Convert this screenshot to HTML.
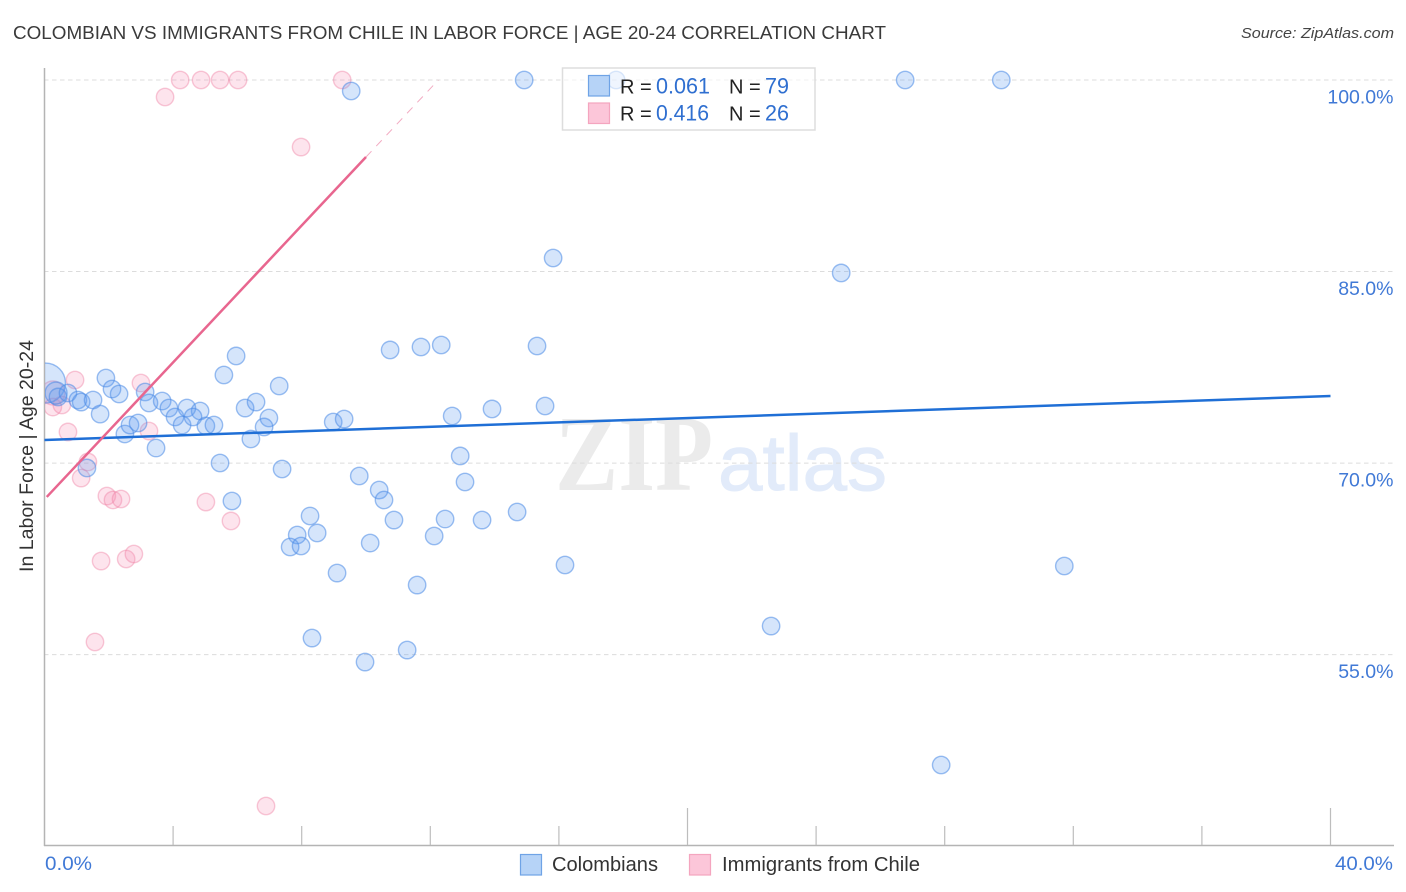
<!DOCTYPE html>
<html lang="en">
<head>
<meta charset="utf-8">
<title>Colombian vs Immigrants from Chile in Labor Force | Age 20-24 Correlation Chart</title>
<style>
html,body{margin:0;padding:0;background:#fff;width:1406px;height:892px;overflow:hidden}
svg{display:block}
text{font-family:"Liberation Sans",sans-serif}
</style>
</head>
<body>
<svg id="chart" width="1406" height="892" viewBox="0 0 1406 892" xmlns="http://www.w3.org/2000/svg">
  <defs>
    <clipPath id="plot-clip"><rect x="45" y="60" width="1349" height="785"/></clipPath>
  </defs>
  <text x="13" y="39" font-size="18.5" fill="#3a3a3a" textLength="873" lengthAdjust="spacingAndGlyphs">COLOMBIAN VS IMMIGRANTS FROM CHILE IN LABOR FORCE | AGE 20-24 CORRELATION CHART</text>
  <text x="1241" y="38" font-size="15" font-style="italic" fill="#444" textLength="153" lengthAdjust="spacingAndGlyphs">Source: ZipAtlas.com</text>

  <g id="watermark">
    <text x="555" y="490" style="font-family:'Liberation Serif',serif" font-weight="bold" font-size="108" fill="#ebebeb" textLength="158" lengthAdjust="spacingAndGlyphs">ZIP</text>
    <text x="718" y="490" font-size="79" fill="#e2ebfa" stroke="#e2ebfa" stroke-width="1" textLength="169" lengthAdjust="spacingAndGlyphs">atlas</text>
  </g>

  <g id="grid"></g>
  <g id="axes"></g>
  <text transform="translate(33,456) rotate(-90)" font-size="19.5" fill="#333" text-anchor="middle" textLength="232" lengthAdjust="spacingAndGlyphs">In Labor Force | Age 20-24</text>
  <g id="points" clip-path="url(#plot-clip)"></g>
  <g id="trends"></g>

  <g>
    <rect x="562.5" y="68" width="252.5" height="62" fill="#fff" fill-opacity="0.62" stroke="#ddd" stroke-width="1.5"/>
    <rect x="588.5" y="75.5" width="21" height="20.5" fill="#b6d3f7" stroke="#6fa3e6" stroke-width="1.2"/>
    <rect x="588.5" y="103" width="21" height="20.5" fill="#fcc6d9" stroke="#f4a5bf" stroke-width="1.2"/>
    <text x="620" y="93.5" font-size="20" fill="#222">R =</text>
    <text x="656" y="93.5" font-size="22" fill="#2f6fd0" textLength="54" lengthAdjust="spacingAndGlyphs">0.061</text>
    <text x="729" y="93.5" font-size="20" fill="#222">N =</text>
    <text x="765" y="93.5" font-size="22" fill="#2f6fd0" textLength="24" lengthAdjust="spacingAndGlyphs">79</text>
    <text x="620" y="120.5" font-size="20" fill="#222">R =</text>
    <text x="656" y="120.5" font-size="22" fill="#2f6fd0" textLength="53" lengthAdjust="spacingAndGlyphs">0.416</text>
    <text x="729" y="120.5" font-size="20" fill="#222">N =</text>
    <text x="765" y="120.5" font-size="22" fill="#2f6fd0" textLength="24" lengthAdjust="spacingAndGlyphs">26</text>
  </g>

  <g>
    <rect x="520.5" y="854.5" width="21" height="20.5" fill="#b6d3f7" stroke="#6fa3e6" stroke-width="1.2"/>
    <text x="552" y="871" font-size="20" fill="#333" textLength="106" lengthAdjust="spacingAndGlyphs">Colombians</text>
    <rect x="689.5" y="854.5" width="21" height="20.5" fill="#fcc6d9" stroke="#f4a5bf" stroke-width="1.2"/>
    <text x="722" y="871" font-size="20" fill="#333" textLength="198" lengthAdjust="spacingAndGlyphs">Immigrants from Chile</text>
  </g>
</svg>
<script>
// Chart data
const xTickValues = [0, 4, 8, 12, 16, 20, 24, 28, 32, 36, 40];
const xTickLabels = ["0.0%", "40.0%"];
const xLabelValues = [0, 40];
const yTickValues = [100, 85, 70, 55];
const yTickLabels = ["100.0%", "85.0%", "70.0%", "55.0%"];

const colombianX = [0.03,0.36,0.42,0.73,1.04,1.14,1.51,1.73,1.91,2.10,2.32,2.50,2.66,2.91,3.13,3.25,3.66,3.87,4.06,4.28,4.43,4.84,4.62,5.02,5.27,3.47,5.96,5.58,7.30,6.24,6.58,6.98,6.83,6.42,5.46,10.75,11.71,12.34,15.32,15.57,13.92,12.68,8.98,9.32,12.93,13.08,7.39,9.79,10.41,10.56,8.26,10.87,12.46,13.61,14.70,7.86,8.48,7.64,7.98,10.13,12.12,9.10,11.59,16.19,8.32,11.28,9.97,5.83,9.54,14.92,17.78,26.77,29.76,15.82,24.78,31.72,22.60,27.89,1.32];
const colombianY = [76.27,75.49,75.18,75.49,74.94,74.78,74.94,73.84,76.66,75.80,75.41,72.28,72.98,73.14,75.57,74.71,74.86,74.31,73.61,72.98,74.31,74.08,73.61,72.91,72.98,71.18,78.39,76.90,76.04,74.31,74.78,73.53,72.83,71.89,70.01,78.86,79.09,79.25,79.17,74.47,74.24,73.69,73.22,73.45,70.56,68.52,69.54,68.99,67.89,67.11,65.86,65.54,65.62,65.54,66.17,64.37,64.53,63.43,63.51,63.74,64.29,61.39,60.45,62.02,56.30,55.36,54.42,67.03,99.14,100,100,100,100,86.06,84.89,61.94,57.24,46.36,69.62];

const chileX = [0.95,0.26,0.26,0.54,0.73,1.35,1.14,1.94,2.13,2.38,3.00,3.25,5.02,5.80,1.76,2.54,2.78,1.57,6.89,3.75,4.22,4.87,5.46,6.02,9.26,7.98];
const chileY = [76.51,75.49,74.39,74.55,72.44,70.09,68.83,67.42,67.11,67.19,76.27,72.51,66.95,65.47,62.33,62.49,62.88,55.99,43.15,98.67,100,100,100,100,100,94.75];

const colombianTrendX = [0, 40];
const colombianTrendY = [71.81, 75.25];
const chileTrendX = [0.07, 10.0];
const chileTrendY = [67.35, 93.97];
const chileTrendExtX = [10.0, 12.25];
const chileTrendExtY = [93.97, 100];

// Axis functions
const xScale = v => 44.5 + v * (1330.5 - 44.5) / 40;
const yScale = v => 80 + (100 - v) * 12.77;

const NS = "http://www.w3.org/2000/svg";
function make(parent, tag, attrs, text) {
  const el = document.createElementNS(NS, tag);
  for (const k in attrs) el.setAttribute(k, attrs[k]);
  if (text !== undefined) el.textContent = text;
  parent.appendChild(el);
  return el;
}

const gridG = document.getElementById("grid");
const axesG = document.getElementById("axes");

yTickValues.forEach((v, i) => {
  const line = make(gridG, "line", {x1: 44, x2: 1394, y1: yScale(v), y2: yScale(v), stroke: "#dcdcdc", "stroke-width": 1, "stroke-dasharray": "4.5 3.5"});
  
  
  const label = make(axesG, "text", {x: 1393.5, y: yScale(v) + 23.5, "font-size": 19.5, fill: "#4079d6", "text-anchor": "end"}, yTickLabels[i]);
  
  
});

const yAxisLine = make(axesG, "line", {x1: 44.5, x2: 44.5, y1: 68, y2: 846, stroke: "#b4b4b4", "stroke-width": 1.5});


const xAxisLine = make(axesG, "line", {x1: 44, x2: 1394, y1: 845.5, y2: 845.5, stroke: "#b4b4b4", "stroke-width": 1.5});



xTickValues.forEach((v, i) => {
  if (i === 0) return;
  const top = (v === 20 || v === 40) ? 808 : 826;
  const tick = make(axesG, "line", {x1: xScale(v), x2: xScale(v), y1: top, y2: 845, stroke: "#bdbdbd", "stroke-width": 1.2});
  
  
});

xLabelValues.forEach((v, i) => {
  const atEnd = v === 40;
  const label = make(axesG, "text", {x: atEnd ? 1335 : 45, y: 870, "font-size": 19.5, fill: "#4079d6", textLength: atEnd ? 58 : 47, lengthAdjust: "spacingAndGlyphs"}, xTickLabels[i]);
  
  
});

const pointsG = document.getElementById("points");

chileX.forEach((v, i) => {
  const c = make(pointsG, "circle", {cx: xScale(v), cy: yScale(chileY[i]), r: i === 1 ? 12 : 8.7, fill: "#f58fb2", "fill-opacity": 0.24, stroke: "#ee7fa3", "stroke-opacity": 0.42, "stroke-width": 1.4});
  
  
});

colombianX.forEach((v, i) => {
  const c = make(pointsG, "circle", {cx: xScale(v), cy: yScale(colombianY[i]), r: i === 0 ? 20 : (i === 1 ? 11 : 8.7), fill: "#5b9bef", "fill-opacity": 0.26, stroke: "#4a8ae6", "stroke-opacity": 0.55, "stroke-width": 1.4});
  
  
});

const trendsG = document.getElementById("trends");
const blueTrend = make(trendsG, "line", {x1: xScale(colombianTrendX[0]), y1: yScale(colombianTrendY[0]), x2: xScale(colombianTrendX[1]), y2: yScale(colombianTrendY[1]), stroke: "#1f6fd6", "stroke-width": 2.5});


const pinkTrend = make(trendsG, "line", {x1: xScale(chileTrendX[0]), y1: yScale(chileTrendY[0]), x2: xScale(chileTrendX[1]), y2: yScale(chileTrendY[1]), stroke: "#e8668f", "stroke-width": 2.5});


const pinkExt = make(trendsG, "line", {x1: xScale(chileTrendExtX[0]), y1: yScale(chileTrendExtY[0]), x2: xScale(chileTrendExtX[1]), y2: yScale(chileTrendExtY[1]), stroke: "#e8668f", "stroke-width": 1, "stroke-opacity": 0.55, "stroke-dasharray": "8 7"});


</script>
</body>
</html>
